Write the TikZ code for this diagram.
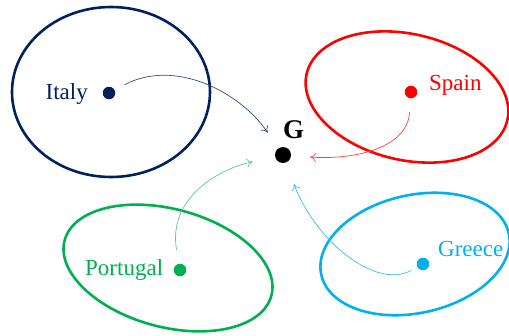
\documentclass[tikz,border=0pt]{standalone}
\usepackage{fontspec}
\setmainfont{Liberation Serif}
\definecolor{cItaly}{HTML}{002060}
\definecolor{cSpain}{HTML}{FF0000}
\definecolor{cPort}{HTML}{00B050}
\definecolor{cGreece}{HTML}{00B0F0}
\tikzset{
  region/.style={line width=2.6pt},
  dot/.style={circle, fill, inner sep=0pt, minimum size=12.5pt},
  lbl/.style={inner sep=0pt, font=\fontsize{23}{26}\selectfont},
  link/.style={line width=0.7pt, -{To[length=6pt,width=9pt]}},
}
\usetikzlibrary{arrows.meta}
\begin{document}
\begin{tikzpicture}[x=1pt,y=-1pt]
\useasboundingbox (0,0) rectangle (509,335);
% regions
\draw[region, cItaly] (111,92) ellipse [x radius=99, y radius=85];
\draw[region, cSpain, rotate around={-13:(407,97)}] (407,97) ellipse [x radius=103, y radius=63];
\draw[region, cPort, rotate around={-15:(168,268)}] (168,268) ellipse [x radius=107, y radius=59];
\draw[region, cGreece, rotate around={12.5:(415,254)}] (415,254) ellipse [x radius=96, y radius=59];
% dots
\node[dot, fill=black, minimum size=16pt] (g) at (283,155) {};
\node[dot, fill=cItaly] (it) at (109,93) {};
\node[dot, fill=cSpain] (sp) at (411,92) {};
\node[dot, fill=cPort] (pt) at (180,270) {};
\node[dot, fill=cGreece] (gr) at (423,264) {};
% labels
\node[lbl, anchor=base west, font=\fontsize{27}{30}\selectfont\bfseries] (gl) at (283,138) {G};
\node[lbl, anchor=base east, text=cItaly] (itl) at (88,99) {Italy};
\node[lbl, anchor=base west, text=cSpain] (spl) at (429,90) {Spain};
\node[lbl, anchor=base west, text=cPort] (ptl) at (85,275) {Portugal};
\node[lbl, anchor=base west, text=cGreece] (grl) at (438,256) {Greece};
% links
\draw[link, cItaly!80, shorten <=11pt, shorten >=19pt] (it) .. controls (175,58) and (240,92) .. (g);
\draw[link, cSpain!75, shorten <=14pt, shorten >=19pt] (sp) .. controls (407,150) and (350,160) .. (g);
\draw[link, cPort!65, shorten <=14pt, shorten >=23pt] (pt) .. controls (168,200) and (215,170) .. (g);
\draw[link, cGreece!80, shorten <=7pt, shorten >=23pt] (gr) .. controls (375,290) and (315,240) .. (g);
\end{tikzpicture}
\end{document}
